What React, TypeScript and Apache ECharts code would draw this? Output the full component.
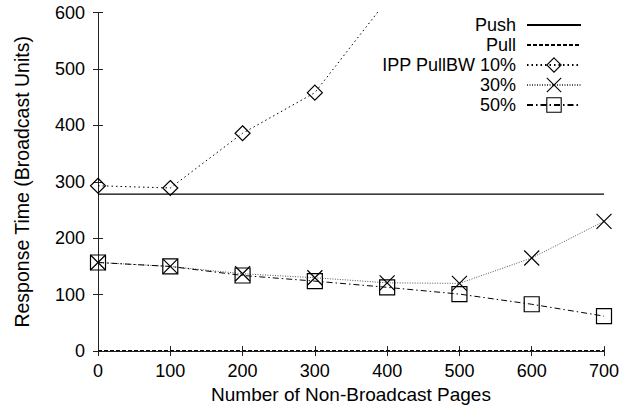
import React, { useEffect, useRef } from "react";
import * as echarts from "echarts";

const pages = [0, 100, 200, 300, 400, 500, 600, 700];
const pushValue = 278;
const pullValue = 1;
const ipp10 = [293, 289, 386, 458, 622];
const ipp30 = [157, 150, 137, 130, 121, 120, 165, 230];
const ipp50 = [157, 150, 134, 124, 113, 101, 83, 62];
const xTitle = "Number of Non-Broadcast Pages";
const yTitle = "Response Time (Broadcast Units)";
const legendNames = ["Push", "Pull", "IPP PullBW 10%", "30%", "50%"];

const FONT = "'Liberation Sans', Arial, Helvetica, sans-serif";
const CROSS = "path://M0,0L10,10M10,0L0,10";

export default function App() {
  const ref = useRef<HTMLDivElement>(null);
  useEffect(() => {
    if (!ref.current) return;
    const chart = echarts.init(ref.current, undefined, { renderer: "svg" });
    const pairs = (vals: number[]) => vals.map((v, i) => [pages[i], v]);
    const axisLine = { show: true, lineStyle: { color: "#222", width: 1 } };
    const legendCenters = [26, 46, 66, 86, 106];
    const legends = legendNames.map((name, i) => ({
      data: [name],
      right: 47,
      top: legendCenters[i] - 10,
      orient: "vertical",
      align: "right",
      padding: 0,
      itemWidth: 54,
      itemHeight: 18,
      selectedMode: false,
      itemStyle:
        i < 2
          ? { color: "rgba(0,0,0,0)", borderColor: "rgba(0,0,0,0)", borderWidth: 0 }
          : { color: "rgba(0,0,0,0)", borderColor: "#000", borderWidth: 1.1 },
      textStyle: { fontFamily: FONT, fontSize: 18, color: "#000", padding: [0, 6, 0, 0] },
    }));
    const tick = { show: true, inside: true, length: 5, lineStyle: { color: "#222" } };
    chart.setOption({
      animation: false,
      backgroundColor: "#fff",
      legend: legends,
      grid: { left: 98, right: 25, top: 12.5, bottom: 54.5, containLabel: false },
      xAxis: [
        {
          type: "value",
          min: 0,
          max: 700,
          interval: 100,
          name: xTitle,
          nameLocation: "middle",
          nameGap: 29,
          nameTextStyle: { fontFamily: FONT, fontSize: 19, color: "#000" },
          axisLine,
          axisTick: tick,
          axisLabel: { fontFamily: FONT, fontSize: 18, color: "#000", margin: 11 },
          splitLine: { show: false },
        },
        {
          type: "value",
          position: "top",
          min: 0,
          max: 700,
          interval: 100,
          axisLine,
          axisTick: tick,
          axisLabel: { show: false },
          splitLine: { show: false },
        },
      ],
      yAxis: [
        {
          type: "value",
          min: 0,
          max: 600,
          interval: 100,
          name: yTitle,
          nameLocation: "middle",
          nameGap: 66,
          nameTextStyle: { fontFamily: FONT, fontSize: 19.5, color: "#000" },
          axisLine,
          axisTick: tick,
          axisLabel: { fontFamily: FONT, fontSize: 18, color: "#000", margin: 13 },
          splitLine: { show: false },
        },
        {
          type: "value",
          position: "right",
          min: 0,
          max: 600,
          interval: 100,
          axisLine,
          axisTick: tick,
          axisLabel: { show: false },
          splitLine: { show: false },
        },
      ],
      series: [
        {
          name: "Push",
          type: "line",
          data: [[pages[0], pushValue], [pages[pages.length - 1], pushValue]],
          symbol: "none",
          lineStyle: { color: "#000", width: 1.2, type: "solid" },
          itemStyle: { color: "#000" },
        },
        {
          name: "Pull",
          type: "line",
          data: [[pages[0], pullValue], [pages[pages.length - 1], pullValue]],
          symbol: "none",
          lineStyle: { color: "#000", width: 1, type: [4, 2] },
          itemStyle: { color: "#000" },
        },
        {
          name: "IPP PullBW 10%",
          type: "line",
          data: pairs(ipp10),
          symbol: "diamond",
          symbolSize: 15,
          clip: true,
          lineStyle: { color: "#000", width: 1, type: [1.5, 3] },
          itemStyle: { color: "rgba(0,0,0,0)", borderColor: "#000", borderWidth: 1.2 },
        },
        {
          name: "30%",
          type: "line",
          data: pairs(ipp30),
          symbol: CROSS,
          symbolSize: 15,
          lineStyle: { color: "#555", width: 1, type: [1, 1.5] },
          itemStyle: { color: "rgba(0,0,0,0)", borderColor: "#000", borderWidth: 1.2 },
        },
        {
          name: "50%",
          type: "line",
          data: pairs(ipp50),
          symbol: "rect",
          symbolSize: 15,
          lineStyle: { color: "#000", width: 1, type: [6, 3, 1.5, 3] },
          itemStyle: { color: "rgba(0,0,0,0)", borderColor: "#000", borderWidth: 1.2 },
        },
      ],
    });
    return () => chart.dispose();
  }, []);
  return (
    <div
      ref={ref}
      style={{ position: "absolute", left: 0, top: 0, width: 629, height: 409 }}
    />
  );
}
